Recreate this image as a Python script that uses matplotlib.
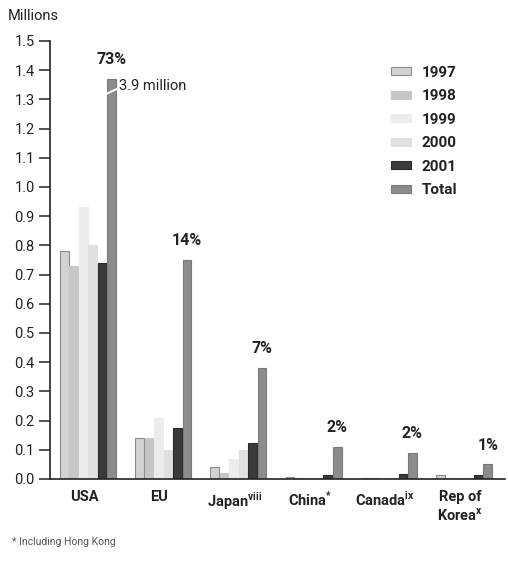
import matplotlib.pyplot as plt
from matplotlib.patches import Patch
import numpy as np

# data (millions)
countries = ["USA", "EU", "Japan$^{\\mathregular{viii}}$", "China$^{\\mathregular{*}}$",
             "Canada$^{\\mathregular{ix}}$", "Rep of\nKorea$^{\\mathregular{x}}$"]
years = ["1997", "1998", "1999", "2000", "2001", "Total"]
v1997 = [0.78, 0.14, 0.04, 0.008, 0.005, 0.013]
v1998 = [0.73, 0.14, 0.02, 0.003, 0.003, 0.002]
v1999 = [0.93, 0.21, 0.07, 0.003, 0.003, 0.002]
v2000 = [0.80, 0.10, 0.10, 0.005, 0.003, 0.003]
v2001 = [0.74, 0.175, 0.125, 0.015, 0.017, 0.012]
total = [1.37, 0.75, 0.38, 0.11, 0.09, 0.05]   # USA bar is cut (real value 3.9 million)
shares = ["73%", "14%", "7%", "2%", "2%", "1%"]

series = [v1997, v1998, v1999, v2000, v2001, total]
fills = ["#d2d2d2", "#c6c6c6", "#ececec", "#e0e0e0", "#3a3a3a", "#8c8c8c"]
edges = ["#8a8a8a", "#c6c6c6", "#ececec", "#e0e0e0", "#2a2a2a", "#7a7a7a"]

plt.rcParams['font.family'] = ['Roboto', 'DejaVu Sans']

fig = plt.figure(figsize=(5.08, 5.75), dpi=100)
ax = fig.add_axes([50 / 508, 1 - 479 / 575, 455 / 508, (479 - 41) / 575])

x = np.arange(len(countries))
w = 0.126
for i, (vals, fc, ec) in enumerate(zip(series, fills, edges)):
    ax.bar(x + (i - 2.5) * w, vals, width=w * 0.92, color=fc, edgecolor=ec,
           linewidth=0.8, label=years[i], zorder=2)

# break mark on the USA total bar
xt = x[0] + 2.5 * w
ax.plot([xt - w / 2, xt + w / 2], [1.32, 1.335], color="white", lw=1.5, zorder=3)
ax.text(xt + w * 0.75, 1.345, "3.9 million", fontsize=10.5, va="center",
        ha="left", color="#222222")

for xi, t, s in zip(x, total, shares):
    ax.text(xi + 2.5 * w, t + 0.04, s, ha="center", va="bottom",
            fontsize=11.5, fontweight="bold", color="#222222")

ax.set_xlim(-0.505, 5.545)
ax.set_ylim(0, 1.5)
ax.set_yticks(np.arange(0, 1.51, 0.1))
ax.set_yticklabels([f"{v:.1f}" for v in np.arange(0, 1.51, 0.1)])
ax.set_xticks(x - 0.05)
ax.set_xticklabels(countries, fontweight="bold", fontsize=10.5, va="top")
ax.tick_params(axis="x", length=0, pad=8, colors="#222222")
ax.tick_params(axis="y", length=8, width=1.1, labelsize=10.5, colors="#222222", pad=3)
for side in ["top", "right"]:
    ax.spines[side].set_visible(False)
for side in ["left", "bottom"]:
    ax.spines[side].set_linewidth(1.2)
    ax.spines[side].set_color("#222222")

handles = [Patch(facecolor=fc, edgecolor=ec, linewidth=0.8) for fc, ec in zip(fills, edges)]
leg = ax.legend(handles, years, loc="upper right", bbox_to_anchor=(0.925, 0.975),
                frameon=False, fontsize=11, handlelength=1.3, handleheight=0.45,
                labelspacing=0.62, handletextpad=0.7)
for t in leg.get_texts():
    t.set_fontweight("bold")
    t.set_color("#222222")

fig.text(8 / 508, 1 - 16 / 575, "Millions", fontsize=10.5, va="center", color="#222222")
fig.text(12 / 508, 1 - 542 / 575, "* Including Hong Kong", fontsize=7.5, va="center",
         color="#555555")

fig.savefig("out.png", dpi=100)
